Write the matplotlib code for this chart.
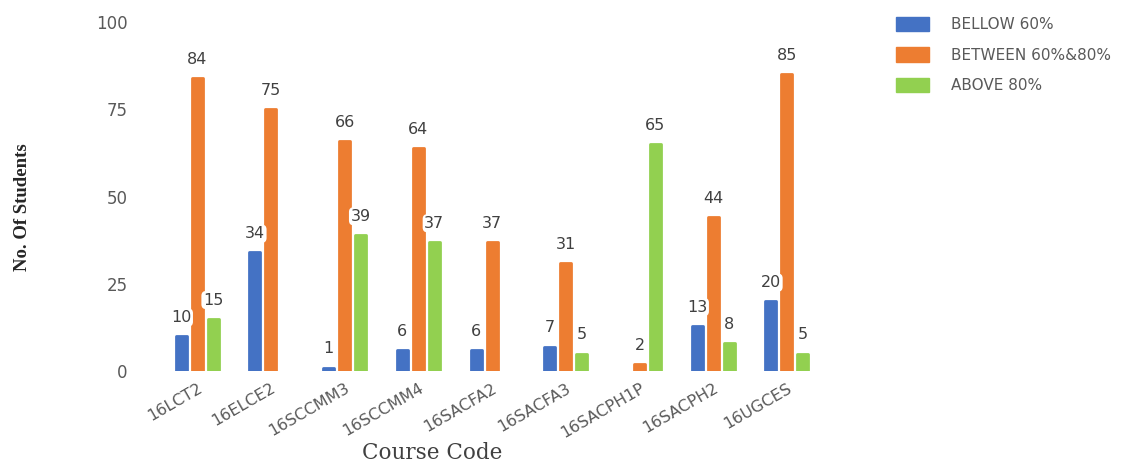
import numpy as np
import matplotlib
matplotlib.use("Agg")
import matplotlib.pyplot as plt
from matplotlib.patches import Patch

categories = ["16LCT2", "16ELCE2", "16SCCMM3", "16SCCMM4", "16SACFA2",
              "16SACFA3", "16SACPH1P", "16SACPH2", "16UGCES"]
series_names = ["BELLOW 60%", "BETWEEN 60%&80%", "ABOVE 80%"]
bellow = [10, 34, 1, 6, 6, 7, np.nan, 13, 20]
between = [84, 75, 66, 64, 37, 31, 2, 44, 85]
above = [15, np.nan, 39, 37, np.nan, 5, 65, 8, 5]
colors = ["#4472C4", "#ED7D31", "#92D050"]
yticks = [0, 25, 50, 75, 100]

plt.rcParams["font.family"] = ["DejaVu Sans"]
SANS = "DejaVu Sans"

fig = plt.figure(figsize=(11.32, 4.63), dpi=100)
ax = fig.add_axes([150/1132, 92/463, 690/1132, 349/463])

x = np.arange(len(categories))
off = 0.217
w = 0.15
txtcol = "#595959"
for i, (vals, c) in enumerate(zip([bellow, between, above], colors)):
    xs = x + (i - 1) * off
    v = np.array(vals, dtype=float)
    ax.bar(xs, v, width=w, color=c, edgecolor=c, linewidth=2,
           joinstyle="round", label=series_names[i])
    for xi, vi in zip(xs, v):
        if np.isnan(vi):
            continue
        ax.annotate(f"{int(vi)}", (xi, vi), xytext=(0, 8), textcoords="offset points",
                    ha="center", va="bottom", fontsize=11.5, color="#404040",
                    family=SANS,
                    bbox=dict(boxstyle="round,pad=0.1,rounding_size=0.3",
                              fc="white", ec="none"))

ax.set_xlim(-0.64, 8.72)
ax.set_ylim(0, 100)
ax.set_yticks(yticks)
ax.set_yticklabels([str(t) for t in yticks], fontsize=12, color=txtcol, family=SANS)
ax.set_xticks(x)
ax.set_xticklabels(categories, rotation=30, ha="right", rotation_mode="anchor",
                   fontsize=11.5, color=txtcol, family=SANS)
ax.tick_params(length=0, axis="both")
ax.tick_params(axis="y", pad=16)
ax.tick_params(axis="x", pad=7)
for s in ax.spines.values():
    s.set_visible(False)

fig.text(23/1132, 1 - 207/463, "No. Of Students", rotation=90, ha="center", va="center",
         family="Liberation Serif", fontweight="bold", fontsize=13.5, color="#262626")
fig.text(432/1132, 1 - 453/463, "Course Code", ha="center", va="center",
         family="DejaVu Serif", fontsize=15.5, color="#404040")

handles = [Patch(facecolor=c, edgecolor=c) for c in colors]
leg = fig.legend(handles, series_names, loc="upper left",
                 bbox_to_anchor=(882/1132, 1 - 3/463), frameon=False,
                 prop={"family": SANS, "size": 11}, handlelength=2.15, handleheight=1.1,
                 handletextpad=1.45, labelspacing=0.98)
for t in leg.get_texts():
    t.set_color(txtcol)

fig.savefig("out.png", dpi=100)
